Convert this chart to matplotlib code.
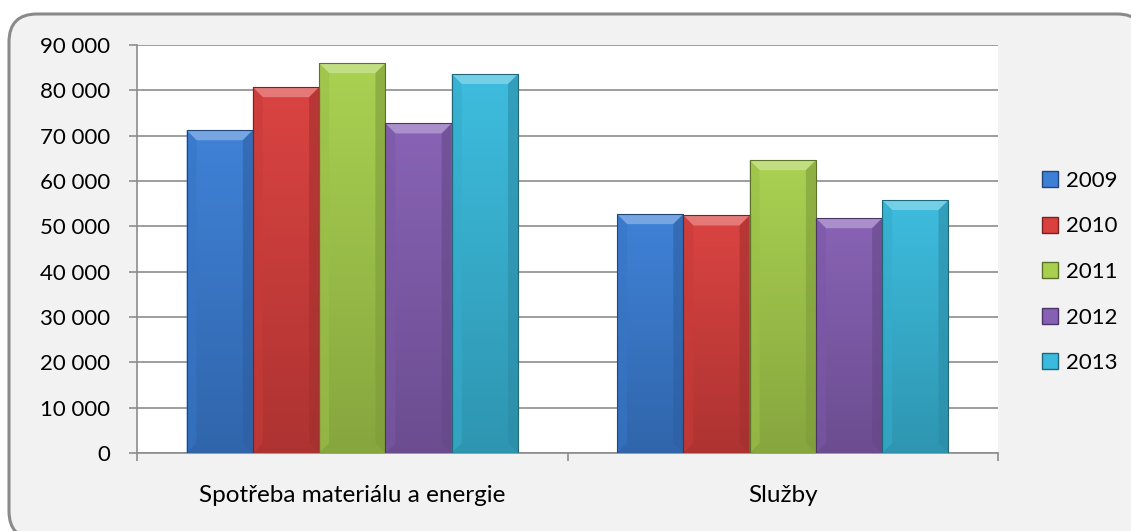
import numpy as np
import matplotlib
matplotlib.use('Agg')
import matplotlib.pyplot as plt
import matplotlib.patches as mpatches
from matplotlib.colors import to_rgb
from matplotlib.ticker import FuncFormatter, FixedLocator

plt.rcParams['font.family'] = ['Lato', 'DejaVu Sans']

categories = ['Spotřeba materiálu a energie', 'Služby']
years = ['2009', '2010', '2011', '2012', '2013']
values = {
    '2009': [71200, 52700],
    '2010': [80700, 52400],
    '2011': [86000, 64600],
    '2012': [72700, 51800],
    '2013': [83600, 55800],
}
colors = ['#3c7fd6', '#d9403e', '#a8d04e', '#8660b4', '#3abbdd']

BG = '#f2f2f2'
GRID = '#8c8c8c'
W, H = 1131, 531

fig = plt.figure(figsize=(W / 100, H / 100), dpi=100, facecolor='white')

# rounded chart frame, drawn on a full-figure pixel axes behind everything;
# it runs off the right and bottom edges
bg = fig.add_axes([0, 0, 1, 1], zorder=-1)
bg.set_xlim(0, W)
bg.set_ylim(0, H)
bg.set_axis_off()
bg.add_patch(mpatches.FancyBboxPatch((9, -8), 1136, 525,
                                     boxstyle='round,pad=0,rounding_size=28',
                                     facecolor=BG, edgecolor='#8a8a8a', linewidth=2.2,
                                     clip_on=False))

ax = fig.add_axes([137 / W, 78 / H, 861 / W, 408 / H])
ax.set_facecolor('white')
ax.set_xlim(-0.5, 1.5)
ax.set_ylim(0, 90000)

x = np.arange(len(categories))
width = 0.154


def shade(c, f):
    r, g, b = to_rgb(c)
    if f >= 0:
        return (r + (1 - r) * f, g + (1 - g) * f, b + (1 - b) * f)
    return (r * (1 + f), g * (1 + f), b * (1 + f))


# pixel-size bevel in data units
px_x = 2.0 / 861
px_y = 90000 / 408
bev = 10

for i, yr in enumerate(years):
    xs = x + (i - 2) * width
    bars = ax.bar(xs, values[yr], width=width, color=colors[i],
                  edgecolor='none', linewidth=0, zorder=3)
    for b in bars:
        x0, w, h = b.get_x(), b.get_width(), b.get_height()
        # vertical gradient, bright top to darker bottom
        grad = np.linspace(0, 1, 64)[:, None, None]
        top = np.array(shade(colors[i], 0.02))[None, None, :]
        bot = np.array(shade(colors[i], -0.2))[None, None, :]
        img = np.repeat(top * (1 - grad) + bot * grad, 2, axis=1)
        im = ax.imshow(img, extent=(x0, x0 + w, 0, h), aspect='auto',
                       origin='upper', zorder=3.1, interpolation='bilinear')
        im.set_clip_path(b)
        dx, dy = bev * px_x, bev * px_y
        # top bevel
        ax.add_patch(mpatches.Polygon([(x0, h), (x0 + w, h), (x0 + w - dx, h - dy),
                                       (x0 + dx, h - dy)], closed=True,
                                      facecolor=shade(colors[i], 0.3), edgecolor='none',
                                      zorder=3.2))
        # side bevels
        ax.add_patch(mpatches.Polygon([(x0, h), (x0 + dx, h - dy), (x0 + dx, dy), (x0, 0)],
                                      closed=True, facecolor=shade(colors[i], -0.08),
                                      edgecolor='none', alpha=0.6, zorder=3.2))
        ax.add_patch(mpatches.Polygon([(x0 + w, h), (x0 + w - dx, h - dy), (x0 + w - dx, dy),
                                       (x0 + w, 0)], closed=True,
                                      facecolor=shade(colors[i], -0.25), edgecolor='none',
                                      alpha=0.6, zorder=3.2))
        ax.add_patch(mpatches.Rectangle((x0, 0), w, h, facecolor='none',
                                        edgecolor=shade(colors[i], -0.45), linewidth=0.8,
                                        zorder=3.3))

ax.yaxis.set_major_locator(FixedLocator(np.arange(0, 90001, 10000)))
ax.yaxis.set_major_formatter(FuncFormatter(lambda v, p: f'{int(v):,}'.replace(',', ' ')))
ax.grid(axis='y', color=GRID, linewidth=1.2, zorder=0)
ax.set_axisbelow(True)

ax.xaxis.set_major_locator(FixedLocator([-0.5, 0.5, 1.5]))
ax.xaxis.set_major_formatter(FuncFormatter(lambda v, p: ''))
ax.xaxis.set_minor_locator(FixedLocator(x))
ax.set_xticklabels(categories, minor=True)
ax.tick_params(axis='x', which='major', direction='out', length=6, color=GRID, width=1.2)
ax.tick_params(axis='x', which='minor', length=0, pad=23, labelsize=17.5)
ax.tick_params(axis='y', direction='out', length=6, color=GRID, width=1.2, pad=13,
               labelsize=16)

for s in ['top', 'right']:
    ax.spines[s].set_visible(False)
for s in ['left', 'bottom']:
    ax.spines[s].set_color(GRID)
    ax.spines[s].set_linewidth(1.2)

handles = [mpatches.Patch(facecolor=colors[i], edgecolor=shade(colors[i], -0.45),
                          label=yr) for i, yr in enumerate(years)]
fig.legend(handles=handles, loc='center left', bbox_to_anchor=(1033 / W, 1 - 272 / H),
           frameon=False, fontsize=16, handlelength=0.72, handleheight=0.72,
           handletextpad=0.35, labelspacing=1.15, borderaxespad=0)

fig.savefig('out.png', dpi=100, facecolor='white')
